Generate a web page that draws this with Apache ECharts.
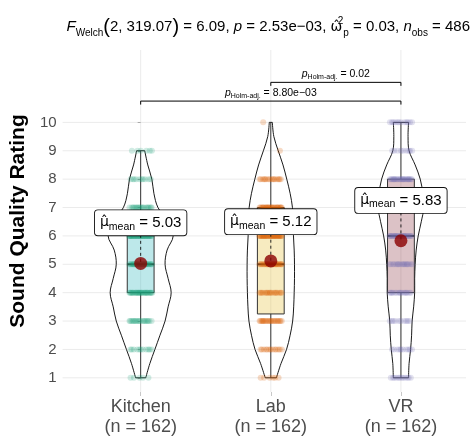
<!DOCTYPE html>
<html><head><meta charset="utf-8">
<script src="https://cdn.jsdelivr.net/npm/echarts@6/dist/echarts.min.js"></script>
<style>html,body{margin:0;padding:0;background:#fff}#c{width:472px;height:437px}</style>
</head><body><div id="c"></div>
<script>
// ---------------- data ----------------
const categories = ['Kitchen', 'Lab', 'VR'];
const groupSizes = [162, 162, 162];
const ratingLevels = [1, 2, 3, 4, 5, 6, 7, 8, 9, 10];
const yTicks = [1, 2, 3, 4, 5, 6, 7, 8, 9, 10];
// number of responses at each rating level (1..10)
const kitchenCounts = [5, 11, 19, 31, 26, 35, 19, 10, 6, 0];
const labCounts = [6, 13, 22, 18, 25, 33, 27, 16, 1, 1];
const vrCounts = [12, 10, 10, 16, 17, 24, 28, 24, 9, 12];
// violin density (relative) at ratings 1, 1.5, 2, ...
const kitchenDensity = [5, 9, 14, 19, 24, 27, 30, 27, 24, 26, 32, 27, 17, 13, 11, 7, 4];
const labDensity = [5.5, 10, 15.5, 19, 21.5, 22.5, 23, 23.3, 23.3, 23, 22.3, 22, 21.3, 19, 15.7, 12, 7.3, 3, 1.5];
const vrDensity = [7.5, 8, 9.5, 10.5, 11, 12.5, 13.5, 13.5, 14, 15, 17, 20, 22.5, 21.5, 19, 14, 8, 7, 7.5];
// boxplot stats [lower whisker, Q1, median, Q3, upper whisker]
const kitchenBox = [1, 4, 5, 6, 9];
const labBox = [1, 3.25, 5, 7, 10];
const vrBox = [1, 4, 6, 8, 10];
const groupMeans = [5.03, 5.12, 5.83];
// pairwise comparisons
const pairFrom = [0, 1];
const pairTo = [2, 2];
const pairP = ['8.80e\u221203', '0.02'];
// Welch ANOVA summary
const welchDf = ['2', '319.07'];
const welchF = '6.09';
const welchP = '2.53e\u221203';
const omegaSq = '0.03';
const nObs = 486;

// ---------------- layout / style ----------------
const FONT = '"Liberation Sans", Arial, Helvetica, sans-serif';
const GREEK = '"DejaVu Sans", "Liberation Sans", sans-serif';
const VIOLIN_HALF = 0.25;
const BOX_HALF = 0.103;
const JITTER_HALF = 0.09;
const labelY = [6.46, 6.5, 7.25];
const bracketY = [10.75, 11.41];
const pointColors = ['rgba(27,158,119,0.25)', 'rgba(217,95,2,0.28)', 'rgba(117,112,179,0.25)'];
const boxFills = ['rgba(38,178,185,0.3)', 'rgba(228,188,45,0.3)', 'rgba(138,52,65,0.3)'];

const groupCounts = [kitchenCounts, labCounts, vrCounts];
const groupDensity = [kitchenDensity, labDensity, vrDensity];
const groupBox = [kitchenBox, labBox, vrBox];
const maxDensity = Math.max(...groupDensity.map(d => Math.max(...d)));

function jitterOffset(i, level) {
  const f = ((i + 0.5 + level * 3.7) * 0.6180339887) % 1;
  return (f * 2 - 1) * JITTER_HALF;
}

const pointSeries = categories.map((c, g) => {
  const pts = [];
  ratingLevels.forEach((lv, k) => {
    for (let i = 0; i < groupCounts[g][k]; i++) pts.push([g + jitterOffset(i, lv), lv]);
  });
  return {
    type: 'scatter', data: pts, symbolSize: 6, z: 3, silent: true,
    itemStyle: { color: pointColors[g] }
  };
});

function renderGrid(params, api) {
  const cs = params.coordSys;
  const ch = [];
  yTicks.forEach(t => {
    const y = api.coord([0, t])[1];
    ch.push({ type: 'line', shape: { x1: cs.x, y1: y, x2: cs.x + cs.width, y2: y }, style: { stroke: '#ebebeb', lineWidth: 1 } });
  });
  categories.forEach((c, g) => {
    const x = api.coord([g, 1])[0];
    ch.push({ type: 'line', shape: { x1: x, y1: cs.y, x2: x, y2: cs.y + cs.height }, style: { stroke: '#ebebeb', lineWidth: 1 } });
  });
  return { type: 'group', children: ch };
}

function renderViolin(params, api) {
  const g = api.value(0);
  const d = groupDensity[g];
  const left = [], right = [];
  for (let k = 0; k < d.length; k++) {
    const r = 1 + k * 0.5;
    const w = d[k] / maxDensity * VIOLIN_HALF;
    left.push(api.coord([g - w, r]));
    right.push(api.coord([g + w, r]));
  }
  const n = d.length - 1;
  const st = { stroke: '#000', lineWidth: 0.9, fill: null };
  return { type: 'group', children: [
    { type: 'polyline', shape: { points: left, smooth: 0.35 }, style: st },
    { type: 'polyline', shape: { points: right, smooth: 0.35 }, style: st },
    { type: 'line', shape: { x1: left[0][0], y1: left[0][1], x2: right[0][0], y2: right[0][1] }, style: st },
    { type: 'line', shape: { x1: left[n][0], y1: left[n][1], x2: right[n][0], y2: right[n][1] }, style: st }
  ] };
}

function renderBox(params, api) {
  const g = api.value(0);
  const [mn, q1, md, q3, mx] = groupBox[g];
  const tl = api.coord([g - BOX_HALF, q3]);
  const br = api.coord([g + BOX_HALF, q1]);
  const ml = api.coord([g - BOX_HALF, md]), mr = api.coord([g + BOX_HALF, md]);
  const top = api.coord([g, mx]), p3 = api.coord([g, q3]), p1 = api.coord([g, q1]), bot = api.coord([g, mn]);
  return { type: 'group', children: [
    { type: 'line', shape: { x1: top[0], y1: top[1], x2: p3[0], y2: p3[1] }, style: { stroke: '#333', lineWidth: 1 } },
    { type: 'line', shape: { x1: p1[0], y1: p1[1], x2: bot[0], y2: bot[1] }, style: { stroke: '#333', lineWidth: 1 } },
    { type: 'rect', shape: { x: tl[0], y: tl[1], width: br[0] - tl[0], height: br[1] - tl[1] }, style: { fill: boxFills[g], stroke: '#333', lineWidth: 1 } },
    { type: 'line', shape: { x1: ml[0], y1: ml[1], x2: mr[0], y2: mr[1] }, style: { stroke: '#333', lineWidth: 2 } }
  ] };
}

function renderConnector(params, api) {
  const g = api.value(0);
  const lab = api.coord([g, labelY[g]]);
  const m = api.coord([g, groupMeans[g]]);
  return { type: 'line', shape: { x1: m[0], y1: lab[1] + 12, x2: m[0], y2: m[1] }, style: { stroke: '#111', lineWidth: 0.9, lineDash: [3, 3] } };
}

function renderMeanLabel(params, api) {
  const g = api.value(0);
  const p = api.coord([g, labelY[g]]);
  return {
    type: 'text',
    style: {
      text: '{m|\u03bc\u0302}{s|mean}{t| = ' + groupMeans[g].toFixed(2) + '}',
      x: p[0], y: p[1], align: 'center', verticalAlign: 'middle',
      backgroundColor: '#fff', borderColor: '#111', borderWidth: 0.9, borderRadius: 3,
      padding: [3, 5, 3, 5],
      rich: {
        m: { fontFamily: GREEK, fontSize: 14, lineHeight: 19, verticalAlign: 'middle', fill: '#000' },
        s: { fontFamily: FONT, fontSize: 10.5, lineHeight: 10, verticalAlign: 'bottom', fill: '#000' },
        t: { fontFamily: FONT, fontSize: 15, lineHeight: 19, verticalAlign: 'middle', fill: '#000' }
      }
    }
  };
}

function renderBracket(params, api) {
  const k = api.value(2);
  const a = api.coord([pairFrom[k], bracketY[k]]);
  const b = api.coord([pairTo[k], bracketY[k]]);
  const st = { stroke: '#000', lineWidth: 1 };
  return { type: 'group', children: [
    { type: 'line', shape: { x1: a[0], y1: a[1], x2: b[0], y2: b[1] }, style: st },
    { type: 'line', shape: { x1: a[0], y1: a[1], x2: a[0], y2: a[1] + 3.5 }, style: st },
    { type: 'line', shape: { x1: b[0], y1: b[1], x2: b[0], y2: b[1] + 3.5 }, style: st },
    { type: 'text', style: {
      text: '{i|p}{s|Holm-adj.}{t| = ' + pairP[k] + '}',
      x: (a[0] + b[0]) / 2, y: a[1] - 8, align: 'center', verticalAlign: 'middle',
      rich: {
        i: { fontFamily: FONT, fontSize: 10.5, fontStyle: 'italic', lineHeight: 13, verticalAlign: 'middle', fill: '#000' },
        s: { fontFamily: FONT, fontSize: 7, lineHeight: 7, verticalAlign: 'bottom', fill: '#000' },
        t: { fontFamily: FONT, fontSize: 10.5, lineHeight: 13, verticalAlign: 'middle', fill: '#000' }
      } } }
  ] };
}

const titleRich = {
  n: { fontFamily: FONT, fontSize: 15, lineHeight: 22, verticalAlign: 'middle', fill: '#000' },
  g: { fontFamily: GREEK, fontSize: 14, lineHeight: 22, verticalAlign: 'middle', fill: '#000' },
  i: { fontFamily: FONT, fontSize: 15, fontStyle: 'italic', lineHeight: 22, verticalAlign: 'middle', fill: '#000' },
  sub: { fontFamily: FONT, fontSize: 10, lineHeight: 10, verticalAlign: 'bottom', fill: '#000' },
  sup: { fontFamily: FONT, fontSize: 10, lineHeight: 10, verticalAlign: 'top', fill: '#000', width: 1 },
  par: { fontFamily: FONT, fontSize: 20, lineHeight: 22, verticalAlign: 'middle', fill: '#000' }
};
const titleText = '{i|F}{sub|Welch}{par|(}{n|' + welchDf[0] + ', ' + welchDf[1] + '}{par|)}{n| = ' + welchF +
  ', }{i|p}{n| = ' + welchP + ', }{g|\u03c9\u0302}{sup|2}{sub|p}{n| = ' + omegaSq + ', }{i|n}{sub|obs}{n| = ' + nObs + '}';

const chart = echarts.init(document.getElementById('c'));
chart.setOption({
  animation: false,
  backgroundColor: '#fff',
  grid: { left: 60, right: 6, top: 50, bottom: 43, containLabel: false },
  xAxis: {
    type: 'value', min: -0.6, max: 2.5,
    axisLine: { show: false },
    splitLine: { show: false },
    axisTick: { show: true, customValues: [0, 1, 2], length: 4, lineStyle: { color: '#c8c8c8' } },
    axisLabel: {
      customValues: [0, 1, 2], margin: 5,
      formatter: v => categories[Math.round(v)] + '\n(n = ' + groupSizes[Math.round(v)] + ')',
      fontFamily: FONT, fontSize: 18, lineHeight: 20, color: '#4d4d4d'
    }
  },
  yAxis: {
    type: 'value', min: 0.5, max: 12.55,
    name: 'Sound Quality Rating', nameLocation: 'middle', nameGap: 24,
    nameTextStyle: { fontFamily: FONT, fontSize: 21, fontWeight: 'bold', color: '#000' },
    axisLine: { show: false },
    splitLine: { show: false },
    axisTick: { show: true, customValues: yTicks, length: 3, lineStyle: { color: '#aaa' } },
    axisLabel: { customValues: yTicks, margin: 6, fontFamily: FONT, fontSize: 15, color: '#4d4d4d' }
  },
  graphic: [{
    type: 'text', x: 470, y: 27,
    style: { text: titleText, rich: titleRich, align: 'right', verticalAlign: 'middle' }
  }],
  series: [
    { type: 'custom', renderItem: renderGrid, data: [[0, 1]], z: 0, silent: true },
    { type: 'custom', renderItem: renderViolin, data: categories.map((c, g) => [g, groupMeans[g]]), z: 1, silent: true },
    { type: 'custom', renderItem: renderBox, data: categories.map((c, g) => [g, groupMeans[g]]), z: 2, silent: true },
    ...pointSeries,
    { type: 'custom', renderItem: renderConnector, data: categories.map((c, g) => [g, groupMeans[g]]), z: 4, silent: true },
    { type: 'scatter', data: categories.map((c, g) => [g, groupMeans[g]]), symbolSize: 13, z: 5, silent: true,
      itemStyle: { color: '#8b0000' } },
    { type: 'custom', renderItem: renderMeanLabel, data: categories.map((c, g) => [g, groupMeans[g]]), z: 6, silent: true },
    { type: 'custom', renderItem: renderBracket, data: pairP.map((p, k) => [pairTo[k], bracketY[k], k]), z: 6, silent: true }
  ]
});
</script></body></html>
